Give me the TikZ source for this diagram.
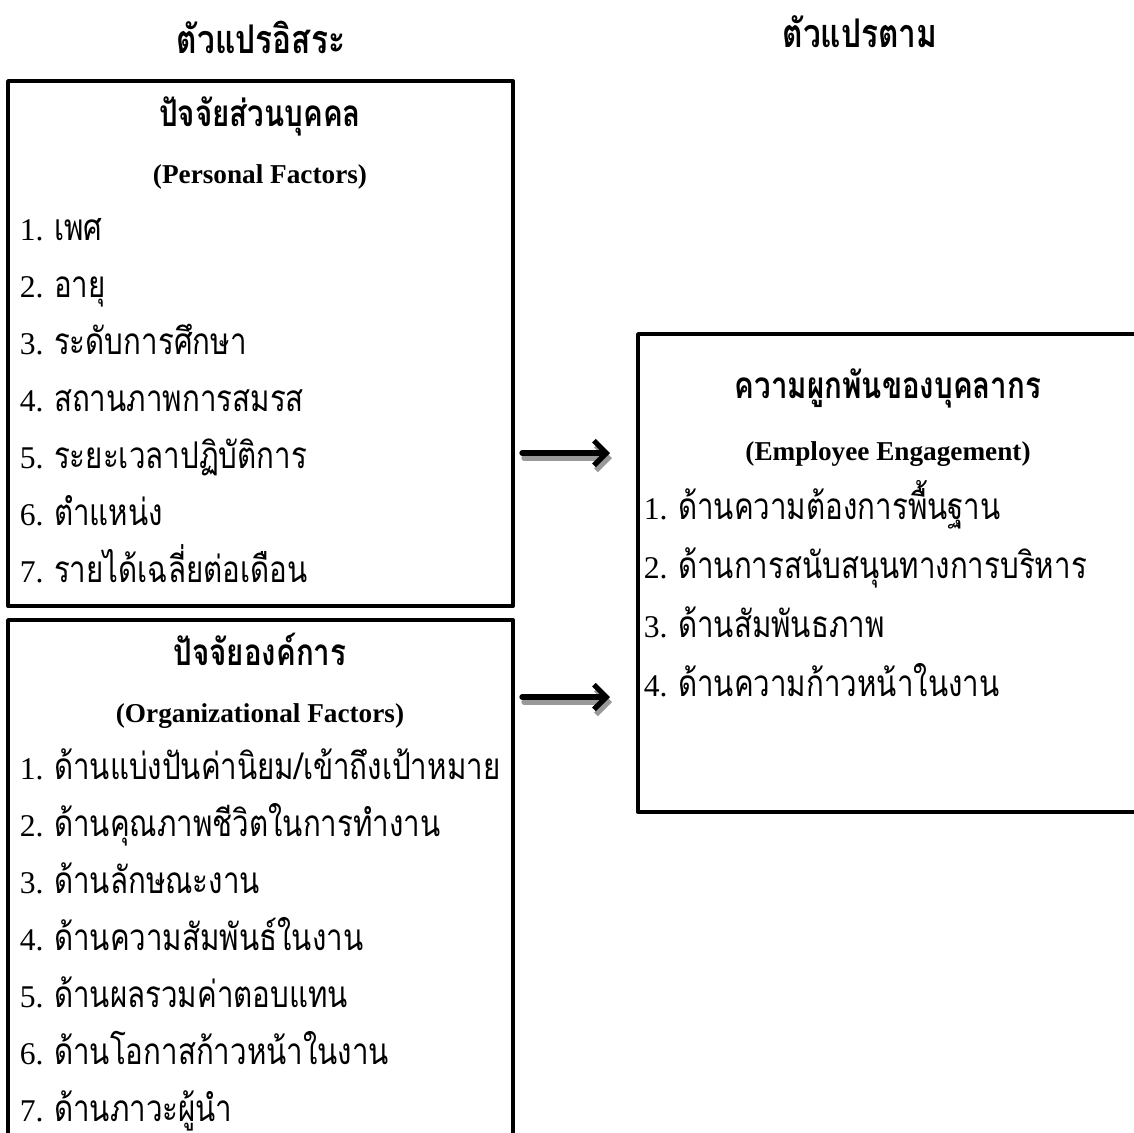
\documentclass[tikz,border=0pt]{standalone}
\usepackage{fontspec}
\setmainfont{Liberation Serif}
\newfontfamily\thaifont[Script=Thai,FakeStretch=0.8]{Loma}
\newcommand{\thtxt}[1]{{\thaifont\fontsize{21}{24}\selectfont #1}}
\newcommand{\thtitle}[1]{{\thaifont\fontsize{22.5}{26}\selectfont #1}}
\usetikzlibrary{arrows.meta}
\usetikzlibrary{positioning}

\tikzset{
  title/.style={anchor=base,font=\bfseries},
  head/.style={anchor=base,font=\fontsize{15.5}{20}\selectfont\bfseries},
  item/.style={anchor=base west,inner xsep=2pt,font=\fontsize{18}{20}\selectfont},
  frame/.style={line width=2.2pt},
  link/.style={line width=3pt,-{Straight Barb[length=7pt,width=14pt]}},
  linkshade/.style={link,color=black!40}
}

\begin{document}
\begin{tikzpicture}[line cap=round,line join=round,x=0.02cm,y=-0.02cm]
\useasboundingbox (0,0) rectangle (1134,1133);
\clip (0,0) rectangle (1134,1133);
% titles
\node[title] (indep) at (261,53) {\thtitle{ตัวแปรอิสระ}};
\node[title] (dep) at (860,47) {\thtitle{ตัวแปรตาม}};
% frames
\draw[frame] (8,81) rectangle (513,606);
\draw[frame] (8,620) rectangle (513,1160);
\draw[frame] (638,334) rectangle (1160,812);
% personal factors
\node[head] (pers) at (260,126) {\thtxt{ปัจจัยส่วนบุคคล}};
\node[head] (perseng) at (260,183) {(Personal Factors)};
\foreach \t [count=\i] in {เพศ,อายุ,ระดับการศึกษา,สถานภาพการสมรส,ระยะเวลาปฏิบัติการ,ตำแหน่ง,รายได้เฉลี่ยต่อเดือน}
\node[item] (pers\i) at (16,183+57*\i) {\i. \thtxt{\t}};
% organizational factors
\node[head] (org) at (260,665) {\thtxt{ปัจจัยองค์การ}};
\node[head] (orgeng) at (260,722) {(Organizational Factors)};
\foreach \t [count=\i] in {ด้านแบ่งปันค่านิยม/เข้าถึงเป้าหมาย,ด้านคุณภาพชีวิตในการทำงาน,ด้านลักษณะงาน,ด้านความสัมพันธ์ในงาน,ด้านผลรวมค่าตอบแทน,ด้านโอกาสก้าวหน้าในงาน,ด้านภาวะผู้นำ}
\node[item] (org\i) at (16,722+57*\i) {\i. \thtxt{\t}};
% employee engagement
\node[head] (eng) at (888,398) {\thtxt{ความผูกพันของบุคลากร}};
\node[head] (engeng) at (888,460) {(Employee Engagement)};
\foreach \t [count=\i] in {ด้านความต้องการพื้นฐาน,ด้านการสนับสนุนทางการบริหาร,ด้านสัมพันธภาพ,ด้านความก้าวหน้าในงาน}
\node[item] (eng\i) at (640,460+59*\i) {\i. \thtxt{\t}};
% arrows
\coordinate (a1s) at (522,453);
\coordinate (a1e) at (610,453);
\coordinate (a2s) at (522,697);
\coordinate (a2e) at (610,697);
\draw[linkshade] ([shift={(2,5)}]a1s) -- ([shift={(2,5)}]a1e);
\draw[linkshade] ([shift={(2,5)}]a2s) -- ([shift={(2,5)}]a2e);
\draw[link] (a1s) -- (a1e);
\draw[link] (a2s) -- (a2e);
\end{tikzpicture}
\end{document}
